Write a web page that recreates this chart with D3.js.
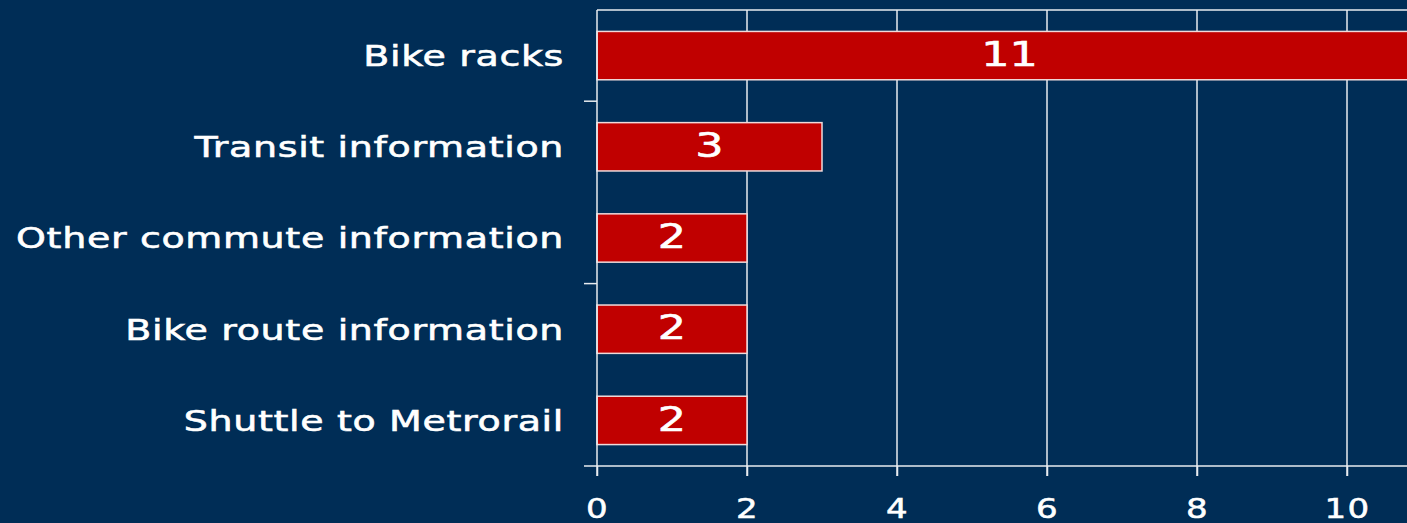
<!DOCTYPE html>
<html>
<head>
<meta charset="utf-8">
<script src="https://cdn.jsdelivr.net/npm/d3@7"></script>
<style>
  html, body { margin: 0; padding: 0; background: #002d56; overflow: hidden; }
  svg text { font-family: "DejaVu Sans", Verdana, sans-serif; fill: #fff; }
</style>
</head>
<body>
<div id="chart"></div>
<script>
// categories top to bottom and their counts
var categories = ["Bike racks", "Transit information", "Other commute information", "Bike route information", "Shuttle to Metrorail"];
var counts = [11, 3, 2, 2, 2];
var xTicks = [0, 2, 4, 6, 8, 10];

var width = 1407, height = 523;
var margin = {top: 10, left: 597, bottom: 57};
var plotBottom = height - margin.bottom;
var lineCol = "#e8ecf0";
var stretch = 1.31; // the source text is drawn wide

var svg = d3.select("#chart").append("svg")
  .attr("width", width)
  .attr("height", height);

svg.append("rect").attr("width", width).attr("height", height).attr("fill", "#002d56");

// 75px per unit, axis runs past the right edge
var x = d3.scaleLinear().domain([0, 11]).range([margin.left, margin.left + 75 * 11]);
var y = d3.scaleBand().domain(categories).range([margin.top, plotBottom]).paddingInner(0.47).paddingOuter(0.235);

// gridlines (extend down into the tick marks)
svg.append("g").selectAll("line").data(xTicks.slice(1)).join("line")
  .attr("x1", d => x(d)).attr("x2", d => x(d))
  .attr("y1", margin.top).attr("y2", plotBottom + 10)
  .attr("stroke", lineCol).attr("stroke-width", 1.5);

// top frame line
svg.append("line")
  .attr("x1", margin.left).attr("x2", width)
  .attr("y1", margin.top).attr("y2", margin.top)
  .attr("stroke", lineCol).attr("stroke-width", 1.5);

// bars
svg.append("g").selectAll("rect").data(counts).join("rect")
  .attr("x", x(0))
  .attr("y", (d, i) => y(categories[i]))
  .attr("width", d => x(d) - x(0))
  .attr("height", y.bandwidth())
  .attr("fill", "#c00000")
  .attr("stroke", "#f0dada").attr("stroke-width", 1.5);

// value labels
svg.append("g").selectAll("text").data(counts).join("text")
  .attr("transform", (d, i) => "translate(" + (x(0) + x(d)) / 2 + "," + (y(categories[i]) + y.bandwidth() / 2) + ") scale(" + stretch + ",1)")
  .attr("dy", "0.3em")
  .attr("text-anchor", "middle")
  .style("font-size", "34px")
  .style("stroke", "#fff").style("stroke-width", 0.6)
  .text(d => d);

// left axis line + ticks on every other band boundary
var step = y.step();
svg.append("line")
  .attr("x1", margin.left).attr("x2", margin.left)
  .attr("y1", margin.top).attr("y2", plotBottom + 10)
  .attr("stroke", lineCol).attr("stroke-width", 1.5);
svg.append("g").selectAll("line").data([1, 3]).join("line")
  .attr("x1", margin.left - 13).attr("x2", margin.left)
  .attr("y1", d => margin.top + d * step).attr("y2", d => margin.top + d * step)
  .attr("stroke", lineCol).attr("stroke-width", 1.5);

// bottom axis
var xAxis = svg.append("g")
  .attr("transform", "translate(0," + plotBottom + ")")
  .call(d3.axisBottom(x).tickValues(xTicks).tickSize(10).tickSizeOuter(0));
xAxis.select(".domain").attr("d", "M" + (margin.left - 13) + ",0H" + width).attr("stroke", lineCol).attr("stroke-width", 1.5);
xAxis.selectAll(".tick line").attr("stroke", lineCol).attr("stroke-width", 1.5);
xAxis.selectAll(".tick text")
  .attr("y", 0).attr("dy", 0)
  .attr("transform", "translate(0,52) scale(" + stretch + ",1)")
  .attr("fill", "#fff")
  .style("font-size", "26px")
  .style("letter-spacing", "1px")
  .style("stroke", "#fff").style("stroke-width", 0.5)
  .style("font-family", "DejaVu Sans, Verdana, sans-serif");

// category labels
svg.append("g").selectAll("text").data(categories).join("text")
  .attr("transform", d => "translate(564," + (y(d) + y.bandwidth() / 2) + ") scale(" + stretch + ",1)")
  .attr("dy", "0.36em")
  .attr("text-anchor", "end")
  .style("font-size", "29px")
  .style("letter-spacing", "0.5px")
  .style("stroke", "#fff").style("stroke-width", 0.6)
  .text(d => d);
</script>
</body>
</html>
